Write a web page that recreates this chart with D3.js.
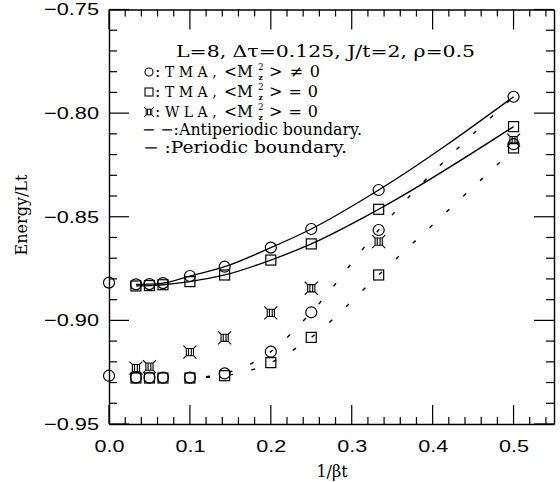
<!DOCTYPE html>
<html>
<head>
<meta charset="utf-8">
<script src="https://cdn.jsdelivr.net/npm/d3@7"></script>
<style>
body { margin: 0; background: #fff; }
svg { display: block; }
</style>
</head>
<body>
<svg id="graph"></svg>
<script>
// 1/(beta t) values, beta t = 30, 20, 15, 10, 7, 5, 4, 3, 2
var invBeta = [0.0333, 0.05, 0.0667, 0.1, 0.1429, 0.2, 0.25, 0.3333, 0.5];
// upper group (solid curves)
var tmaNonzeroUp = [-0.8826, -0.8825, -0.8820, -0.8786, -0.8741, -0.8649, -0.8559, -0.8371, -0.7921];
var tmaZeroUp = [-0.8834, -0.8832, -0.8828, -0.8813, -0.8781, -0.8709, -0.8631, -0.8464, -0.8065];
// lower group (dotted curves)
var tmaNonzeroLow = [-0.9276, -0.9276, -0.9276, -0.9276, -0.9256, -0.9151, -0.8961, -0.8564, -0.8150];
var tmaZeroLow = [-0.9278, -0.9278, -0.9278, -0.9278, -0.9267, -0.9204, -0.9082, -0.8781, -0.8168];
// extrapolated values at 1/(beta t) = 0
var zeroX = [0, 0];
var zeroVals = [-0.8818, -0.9267];
// world line algorithm
var wlaX = [0.0333, 0.05, 0.1, 0.1429, 0.2, 0.25, 0.3333, 0.5];
var wlaVals = [-0.9230, -0.9223, -0.9153, -0.9084, -0.8964, -0.8845, -0.8620, -0.8130];
// dotted boundary lines
var dotX = [0.12, 0.1429, 0.2, 0.25, 0.3333, 0.5];
var dotCircle = [-0.9272, -0.9256, -0.9151, -0.8961, -0.8564, -0.7921];
var dotSquare = [-0.9275, -0.9267, -0.9204, -0.9082, -0.8781, -0.8175];

var xTicks = [0, 0.1, 0.2, 0.3, 0.4, 0.5];
var yTicks = [-0.95, -0.90, -0.85, -0.80, -0.75];
var xMinor = [0, 0.02, 0.04, 0.06, 0.08, 0.1, 0.12, 0.14, 0.16, 0.18, 0.2, 0.22, 0.24, 0.26, 0.28,
	0.3, 0.32, 0.34, 0.36, 0.38, 0.4, 0.42, 0.44, 0.46, 0.48, 0.5, 0.52, 0.54];
var yMinor = [-0.95, -0.94, -0.93, -0.92, -0.91, -0.90, -0.89, -0.88, -0.87, -0.86, -0.85,
	-0.84, -0.83, -0.82, -0.81, -0.80, -0.79, -0.78, -0.77, -0.76, -0.75];

var screen = {width: 560, height: 482};
var plot = {left: 109, right: 554, top: 9.5, bottom: 424};

var svg = d3.select("#graph")
	.attr("width", screen.width)
	.attr("height", screen.height);

var xScale = d3.scaleLinear().domain([0, 0.55]).range([plot.left, plot.right]);
var yScale = d3.scaleLinear().domain([-0.95, -0.75]).range([plot.bottom, plot.top]);

var tickLabelFont = "'Liberation Sans', Arial, sans-serif";
var serif = "'DejaVu Serif', serif";

var isMajor = function (d, majors) {
	return majors.some(function (m) { return Math.abs(m - d) < 1e-6; });
};

// frame and tick labels
var xAxisG = svg.append("g").attr("transform", "translate(0," + plot.bottom + ")")
	.call(d3.axisBottom(xScale).tickValues(xTicks).tickSize(0).tickPadding(17)
		.tickFormat(d3.format(".1f")));
var yAxisG = svg.append("g").attr("transform", "translate(" + plot.left + ",0)")
	.call(d3.axisLeft(yScale).tickValues(yTicks).tickSize(0).tickPadding(10)
		.tickFormat(d3.format(".2f")));
svg.append("g").attr("transform", "translate(0," + plot.top + ")")
	.call(d3.axisTop(xScale).tickValues([]).tickSizeOuter(0));
svg.append("g").attr("transform", "translate(" + plot.right + ",0)")
	.call(d3.axisRight(yScale).tickValues([]).tickSizeOuter(0));

svg.selectAll(".domain").attr("stroke", "#000").attr("stroke-width", 1.4);

xAxisG.selectAll("text")
	.attr("font-family", tickLabelFont).attr("font-size", 16).attr("fill", "#000")
	.attr("textLength", 30).attr("lengthAdjust", "spacingAndGlyphs");
yAxisG.selectAll("text")
	.attr("font-family", tickLabelFont).attr("font-size", 17).attr("fill", "#000")
	.attr("textLength", 55).attr("lengthAdjust", "spacingAndGlyphs");

// inward ticks as thin filled bars
var tickBars = svg.append("g").attr("fill", "#000");
tickBars.selectAll("rect.xb").data(xMinor).enter().append("rect").attr("class", "xb")
	.attr("x", function (d) { return xScale(d) - 0.6; })
	.attr("width", 1.2)
	.attr("y", function (d) { return plot.bottom - (isMajor(d, xTicks) ? 19 : 7); })
	.attr("height", function (d) { return isMajor(d, xTicks) ? 19 : 7; });
tickBars.selectAll("rect.xt").data(xMinor).enter().append("rect").attr("class", "xt")
	.attr("x", function (d) { return xScale(d) - 0.6; })
	.attr("width", 1.2)
	.attr("y", plot.top)
	.attr("height", function (d) { return isMajor(d, xTicks) ? 20 : 7; });
tickBars.selectAll("rect.yl").data(yMinor).enter().append("rect").attr("class", "yl")
	.attr("x", plot.left)
	.attr("width", function (d) { return isMajor(d, yTicks) ? 20 : 8; })
	.attr("y", function (d) { return yScale(d) - 0.6; })
	.attr("height", 1.2);
tickBars.selectAll("rect.yr").data(yMinor).enter().append("rect").attr("class", "yr")
	.attr("x", function (d) { return plot.right - (isMajor(d, yTicks) ? 20 : 8); })
	.attr("width", function (d) { return isMajor(d, yTicks) ? 20 : 8; })
	.attr("y", function (d) { return yScale(d) - 0.6; })
	.attr("height", 1.2);

// axis titles
svg.append("text")
	.attr("transform", "translate(27,215) rotate(-90)")
	.attr("text-anchor", "middle")
	.attr("font-family", serif).attr("font-size", 16).attr("fill", "#000")
	.text("Energy/Lt");
svg.append("text")
	.attr("x", 332).attr("y", 477)
	.attr("text-anchor", "middle")
	.attr("font-family", serif).attr("font-size", 16).attr("fill", "#000")
	.text("1/βt");

// lines
var pairs = function (xs, ys) { return xs.map(function (x, i) { return [x, ys[i]]; }); };
var line = d3.line()
	.x(function (d) { return xScale(d[0]); })
	.y(function (d) { return yScale(d[1]); })
	.curve(d3.curveMonotoneX);

[tmaNonzeroUp, tmaZeroUp].forEach(function (ys) {
	svg.append("path").attr("d", line(pairs(invBeta, ys)))
		.attr("fill", "none").attr("stroke", "#000").attr("stroke-width", 1.3);
});
[dotCircle, dotSquare].forEach(function (ys) {
	svg.append("path").attr("d", line(pairs(dotX, ys)))
		.attr("fill", "none").attr("stroke", "#000").attr("stroke-width", 1.4)
		.attr("stroke-dasharray", "4,19");
});

// markers
var drawCircles = function (data, r) {
	svg.append("g").selectAll("circle").data(data).enter().append("circle")
		.attr("cx", function (d) { return xScale(d[0]); })
		.attr("cy", function (d) { return yScale(d[1]); })
		.attr("r", r)
		.attr("fill", "none").attr("stroke", "#000").attr("stroke-width", 1.2);
};
var drawSquares = function (data, h) {
	svg.append("g").selectAll("rect").data(data).enter().append("rect")
		.attr("x", function (d) { return xScale(d[0]) - h; })
		.attr("y", function (d) { return yScale(d[1]) - h; })
		.attr("width", 2 * h).attr("height", 2 * h)
		.attr("fill", "none").attr("stroke", "#000").attr("stroke-width", 1.2);
};
var wlaPath = function (cx, cy, h, s) {
	var p = d3.path();
	p.rect(cx - h, cy - h, 2 * h, 2 * h);
	p.moveTo(cx - 1.4, cy - h); p.lineTo(cx - 1.4, cy + h);
	p.moveTo(cx + 1.4, cy - h); p.lineTo(cx + 1.4, cy + h);
	[[-1, -1], [1, -1], [1, 1], [-1, 1]].forEach(function (c) {
		p.moveTo(cx + c[0] * h, cy + c[1] * h);
		p.lineTo(cx + c[0] * s, cy + c[1] * s);
	});
	return p.toString();
};
var drawWla = function (data, h, s) {
	svg.append("g").selectAll("path").data(data).enter().append("path")
		.attr("d", function (d) { return wlaPath(xScale(d[0]), yScale(d[1]), h, s); })
		.attr("fill", "none").attr("stroke", "#000").attr("stroke-width", 1.1);
};

drawCircles(pairs(zeroX, zeroVals), 5.5);
drawCircles(pairs(invBeta, tmaNonzeroUp), 5.5);
drawSquares(pairs(invBeta, tmaZeroUp), 5);
drawCircles(pairs(invBeta, tmaNonzeroLow), 5.5);
drawSquares(pairs(invBeta, tmaZeroLow), 5);
drawWla(pairs(wlaX, wlaVals), 3.6, 6.5);

// legend
var legend = svg.append("g")
	.attr("font-family", serif).attr("font-size", 16).attr("fill", "#000")
	.style("white-space", "pre");

legend.append("text").attr("x", 176).attr("y", 57)
	.attr("textLength", 299).attr("lengthAdjust", "spacingAndGlyphs")
	.text("L=8, Δτ=0.125, J/t=2, ρ=0.5");

var rows = [
	{y: 77, name: "T M A ,", rel: ">≠0", relLen: 51, mark: "circle"},
	{y: 97, name: "T M A ,", rel: ">=0", relLen: 49, mark: "square"},
	{y: 117, name: "W L A ,", rel: ">=0", relLen: 49, mark: "wla"}
];
rows.forEach(function (r) {
	var cy = r.y - 5;
	if (r.mark === "circle") {
		legend.append("circle").attr("cx", 149).attr("cy", cy).attr("r", 4)
			.attr("fill", "none").attr("stroke", "#000").attr("stroke-width", 1.1);
	} else if (r.mark === "square") {
		legend.append("rect").attr("x", 145).attr("y", cy - 4).attr("width", 8).attr("height", 8)
			.attr("fill", "none").attr("stroke", "#000").attr("stroke-width", 1.1);
	} else {
		legend.append("path").attr("d", wlaPath(149, cy, 2.8, 4.8))
			.attr("fill", "none").attr("stroke", "#000").attr("stroke-width", 1);
	}
	legend.append("text").attr("x", 155).attr("y", r.y).text(":");
	legend.append("text").attr("x", 165).attr("y", r.y).attr("font-size", 14).text(r.name);
	legend.append("text").attr("x", 224).attr("y", r.y)
		.attr("textLength", 29).attr("lengthAdjust", "spacingAndGlyphs").text("<M");
	legend.append("text").attr("x", 258).attr("y", r.y - 7).attr("font-size", 9).text("2");
	legend.append("text").attr("x", 258.5).attr("y", r.y + 2.5).attr("font-size", 7.5)
		.attr("font-weight", "bold").text("z");
	legend.append("text").attr("x", 269).attr("y", r.y)
		.attr("textLength", r.relLen).attr("lengthAdjust", "spacing").text(r.rel);
});

legend.append("text").attr("x", 142).attr("y", 135)
	.attr("textLength", 220).attr("lengthAdjust", "spacingAndGlyphs")
	.text("− −:Antiperiodic boundary.");
legend.append("text").attr("x", 143).attr("y", 153)
	.attr("textLength", 204).attr("lengthAdjust", "spacingAndGlyphs")
	.text("−  :Periodic boundary.");
</script>
</body>
</html>
